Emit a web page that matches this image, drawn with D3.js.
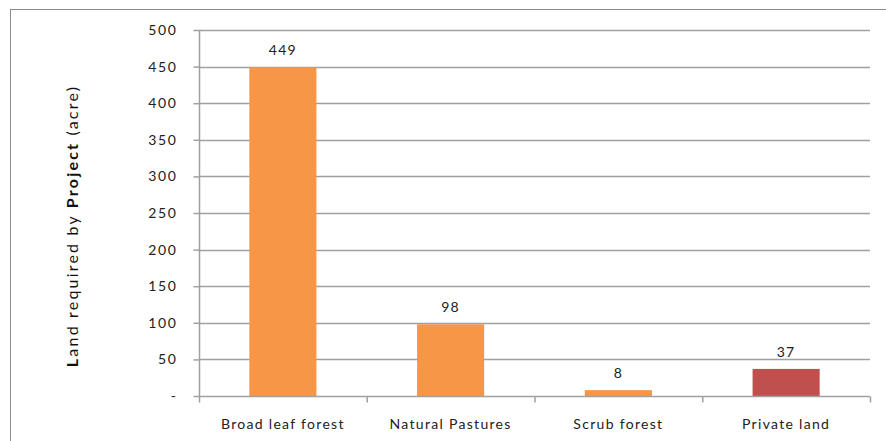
<!DOCTYPE html>
<html><head><meta charset="utf-8">
<script src="https://cdn.jsdelivr.net/npm/d3@7"></script>
<style>body{margin:0;background:#fff;} svg{display:block;}</style>
</head><body>
<svg id="c" width="886" height="441"></svg>
<script>
const categories = ["Broad leaf forest", "Natural Pastures", "Scrub forest", "Private land"];
const values = [449, 98, 8, 37];
const barColors = ["#F79646", "#F79646", "#F79646", "#C0504D"];
const yTicks = [0, 50, 100, 150, 200, 250, 300, 350, 400, 450, 500];
const yLabelParts = [["L", "bold"], ["and required by ", "normal"], ["Project", "bold"], [" (acre)", "normal"]];

const svg = d3.select("#c");
const font = "Lato, 'Open Sans', sans-serif";
const m = {left: 199, right: 870, top: 30, bottom: 396};

svg.append("rect").attr("x", 10.5).attr("y", 9.5).attr("width", 900).attr("height", 460)
  .attr("fill", "#fff").attr("stroke", "#8c8c8c").attr("stroke-width", 1);

const x = d3.scaleBand().domain(categories).range([m.left, m.right]).paddingInner(0.6).paddingOuter(0.3);
const xb = d3.scaleBand().domain(categories).range([m.left, m.right]);
const y = d3.scaleLinear().domain([0, 500]).range([m.bottom, m.top]);

// gridlines
svg.append("g").selectAll("line").data(yTicks.filter(d => d > 0)).join("line")
  .attr("x1", m.left).attr("x2", m.right)
  .attr("y1", d => Math.round(y(d)) + 0.5).attr("y2", d => Math.round(y(d)) + 0.5)
  .attr("stroke", "#a0a0a0").attr("stroke-width", 1.5);

// y axis
const yAxis = d3.axisLeft(y).tickValues(yTicks).tickSize(6).tickPadding(16)
  .tickFormat(d => d === 0 ? "-" : d3.format("d")(d));
const gy = svg.append("g").attr("transform", `translate(${m.left + 0.5},0)`).call(yAxis);
gy.select(".domain").attr("stroke", "#a0a0a0").attr("stroke-width", 1.5).attr("d", `M0,${m.top}V${m.bottom}`);
gy.selectAll(".tick line").attr("stroke", "#a0a0a0").attr("stroke-width", 1.5);
gy.selectAll(".tick text").attr("font-family", font).attr("font-size", 14).attr("fill", "#222")
  .attr("letter-spacing", 1.6);

// bars
svg.append("g").selectAll("rect").data(values).join("rect")
  .attr("x", (d, i) => x(categories[i])).attr("width", x.bandwidth())
  .attr("y", d => y(d)).attr("height", d => y(0) - y(d))
  .attr("fill", (d, i) => barColors[i]);

// x axis
const gx = svg.append("g").attr("transform", `translate(0,${m.bottom + 0.5})`);
gx.append("line").attr("x1", m.left).attr("x2", m.right).attr("stroke", "#a0a0a0").attr("stroke-width", 1.5);
const bounds = categories.map(c => xb(c)).concat([m.right]);
gx.selectAll("line.t").data(bounds).join("line").attr("class", "t")
  .attr("x1", d => d + 0.5).attr("x2", d => d + 0.5).attr("y1", 0).attr("y2", 6)
  .attr("stroke", "#a0a0a0").attr("stroke-width", 1.5);
gx.selectAll("text").data(categories).join("text")
  .attr("x", d => xb(d) + xb.bandwidth() / 2).attr("y", 32)
  .attr("text-anchor", "middle").attr("font-family", font).attr("font-size", 14)
  .attr("fill", "#222").attr("letter-spacing", 1.3).text(d => d);

// value labels
svg.append("g").selectAll("text").data(values).join("text")
  .attr("x", (d, i) => x(categories[i]) + x.bandwidth() / 2)
  .attr("y", d => y(d) - 12)
  .attr("text-anchor", "middle").attr("font-family", font).attr("font-size", 14)
  .attr("fill", "#222").attr("letter-spacing", 1.3).text(d => d);

// y label
const yl = svg.append("text").attr("transform", `translate(78,${(m.top + m.bottom) / 2 + 13}) rotate(-90)`)
  .attr("text-anchor", "middle").attr("font-family", font).attr("font-size", 16).attr("fill", "#111")
  .attr("letter-spacing", 2.2);
yl.selectAll("tspan").data(yLabelParts).join("tspan").attr("font-weight", d => d[1]).text(d => d[0]);
</script>
</body></html>
